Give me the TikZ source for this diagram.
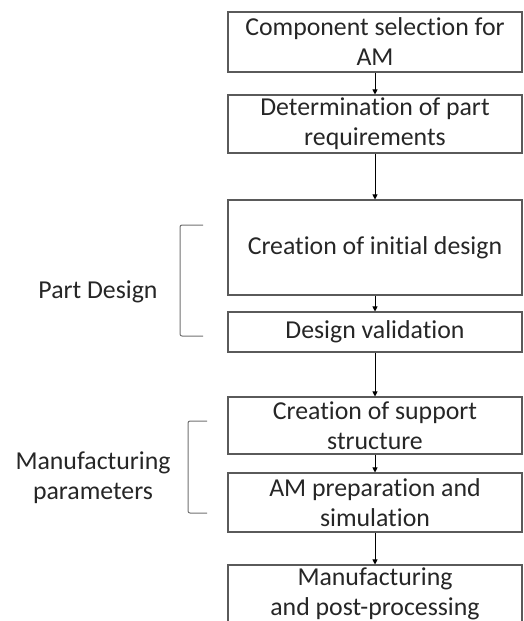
\documentclass[tikz,border=0pt]{standalone}
\usepackage{fontspec}
\setmainfont{Carlito}[Ligatures=NoCommon]
\usetikzlibrary{arrows.meta}
\definecolor{boxline}{HTML}{5A5A5A}
\definecolor{ink}{HTML}{262626}
\definecolor{brk}{HTML}{707070}
\begin{document}
\begin{tikzpicture}[x=1pt,y=-1pt,
  stepbox/.style={draw=boxline,line width=1.1pt,rectangle,minimum width=294pt,
    align=center,text=ink,font=\fontsize{25.8}{30}\selectfont,inner sep=0pt},
  flow/.style={draw=black,line width=0.8pt,-{Triangle[width=5pt,length=5pt]}},
  bracket/.style={draw=brk,line width=1pt,rounded corners=2pt},
  side/.style={align=center,text=ink,font=\fontsize{25.8}{30}\selectfont,inner sep=0pt}]
\useasboundingbox (0,0) rectangle (524,621);

\node[stepbox,minimum height=60pt] (b1) at (375,42) {Component selection for\\AM};
\node[stepbox,minimum height=58pt] (b2) at (375,124) {Determination of part\\requirements};
\node[stepbox,minimum height=95pt] (b3) at (375,247.5) {Creation of initial design};
\node[stepbox,minimum height=40pt] (b4) at (375,332) {Design validation};
\node[stepbox,minimum height=57pt] (b5) at (375,425.5) {Creation of support\\structure};
\node[stepbox,minimum height=59pt] (b6) at (375,502.5) {AM preparation and\\simulation};
\node[stepbox,minimum height=58pt] (b7) at (375,594) {Manufacturing\\and post-processing};

\draw[flow] (b1) -- (b2);
\draw[flow] (b2) -- (b3);
\draw[flow] (b3) -- (b4);
\draw[flow] (b4) -- (b5);
\draw[flow] (b5) -- (b6);
\draw[flow] (b6) -- (b7);

% brackets grouping the design and manufacturing steps
\draw[bracket] (203,225) -- (180,225) -- (180,336) -- (203,336);
\draw[bracket] (207,421) -- (188,421) -- (188,513) -- (207,513);

\node[side] (pd) at (98,292) {Part Design};
\node[side] (mp) at (93,478) {Manufacturing\\parameters};
\end{tikzpicture}
\end{document}
